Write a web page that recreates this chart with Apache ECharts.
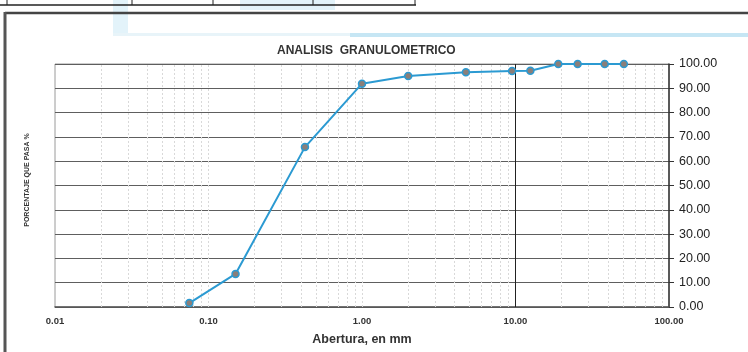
<!DOCTYPE html>
<html>
<head>
<meta charset="utf-8">
<script src="https://cdn.jsdelivr.net/npm/echarts@6/dist/echarts.min.js"></script>
<style>
html,body{margin:0;padding:0;background:#fff;}
#chart{width:748px;height:352px;}
</style>
</head>
<body>
<div id="chart"></div>
<script>
// Sieve openings (mm) and percentage passing
var sizes = [0.075, 0.15, 0.425, 1.0, 2.0, 4.75, 9.5, 12.5, 19.0, 25.4, 38.1, 50.8];
var passing = [1.6, 13.6, 65.8, 91.9, 95.1, 96.6, 97.1, 97.2, 100, 100, 100, 100];
// log grid lines
var minorLines = [0.02,0.03,0.04,0.05,0.06,0.07,0.08,0.09,0.1,
                  0.2,0.3,0.4,0.5,0.6,0.7,0.8,0.9,1,
                  2,3,4,5,6,7,8,9,
                  20,30,40,50,60,70,80,90];
var majorLines = [10];
var xTicks = [0.01, 0.1, 1, 10, 100];
var yTicks = [0,10,20,30,40,50,60,70,80,90,100];

var chart = echarts.init(document.getElementById('chart'), null, {renderer:'canvas'});
var pts = sizes.map(function(s,i){return [s, passing[i]];});
var ml = minorLines.map(function(v){return {xAxis:v, lineStyle:{color:'#d9d9d9', width:1, type:[2,2]}};})
  .concat(majorLines.map(function(v){return {xAxis:v, lineStyle:{color:'#222', width:1, type:'solid'}};}));

var option = {
  backgroundColor:'#ffffff',
  animation:false,
  title:{
    text:'ANALISIS  GRANULOMETRICO',
    left:272, top:40,
    textStyle:{fontFamily:'Liberation Sans, Arial', fontSize:12, fontWeight:'bold', color:'#333'}
  },
  grid:{left:55, right:79, top:64, bottom:45, show:true, borderColor:'#9a9a9a', borderWidth:1, backgroundColor:'transparent'},
  xAxis:{
    type:'log', logBase:10, min:0.01, max:100,
    name:'Abertura, en mm', nameLocation:'middle', nameGap:26,
    nameTextStyle:{fontFamily:'Liberation Sans, Arial', fontSize:12.5, fontWeight:'bold', color:'#333'},
    axisLine:{show:true, lineStyle:{color:'#555', width:1.5}},
    axisTick:{show:false},
    splitLine:{show:false},
    axisLabel:{
      margin:9, fontFamily:'Liberation Sans, Arial', fontSize:9.5, fontWeight:'bold', color:'#333',
      formatter:function(v){return Number(v).toFixed(2);}
    }
  },
  yAxis:{
    type:'value', position:'right', min:0, max:100, interval:10,
    axisLine:{show:true, lineStyle:{color:'#333', width:1.5}},
    axisTick:{show:true, inside:false, length:5, lineStyle:{color:'#333'}},
    splitLine:{show:true, lineStyle:{color:'#5e5e5e', width:1}},
    axisLabel:{
      margin:10, fontFamily:'Liberation Sans, Arial', fontSize:12.5, color:'#222',
      formatter:function(v){return Number(v).toFixed(2);}
    }
  },
  series:[
    {
      type:'line', data:[], silent:true,
      markLine:{silent:true, symbol:'none', label:{show:false}, data:ml, animation:false}
    },
    {
      type:'line', data:pts, smooth:false,
      symbol:'circle', symbolSize:7,
      lineStyle:{color:'#2b9ad2', width:2},
      itemStyle:{color:'#8a7f7a', borderColor:'#2b9ad2', borderWidth:1.5},
      z:5
    }
  ],
  graphic:[
    // scan watermark tints
    {type:'rect', shape:{x:113,y:0,width:15,height:36}, style:{fill:'#e3f3fa'}, z:-10},
    {type:'rect', shape:{x:240,y:0,width:95,height:10}, style:{fill:'#e3f3fa'}, z:-10},
    {type:'rect', shape:{x:113,y:33,width:237,height:3}, style:{fill:'#e8f4f9'}, z:-10},
    {type:'rect', shape:{x:350,y:33,width:398,height:4}, style:{fill:'#c6e6f4'}, z:-10},
    // upper table remains
    {type:'line', shape:{x1:0,y1:5,x2:416,y2:5}, style:{stroke:'#222', lineWidth:1.5}},
    {type:'line', shape:{x1:7,y1:0,x2:7,y2:5}, style:{stroke:'#222', lineWidth:1}},
    {type:'line', shape:{x1:132,y1:0,x2:132,y2:5}, style:{stroke:'#222', lineWidth:1}},
    {type:'line', shape:{x1:213,y1:0,x2:213,y2:5}, style:{stroke:'#222', lineWidth:1}},
    {type:'line', shape:{x1:313,y1:0,x2:313,y2:5}, style:{stroke:'#222', lineWidth:1}},
    {type:'line', shape:{x1:415,y1:0,x2:415,y2:5}, style:{stroke:'#222', lineWidth:1}},
    // frame
    {type:'line', shape:{x1:5,y1:13,x2:748,y2:13}, style:{stroke:'#444', lineWidth:2.5}},
    {type:'line', shape:{x1:5,y1:12,x2:5,y2:352}, style:{stroke:'#555', lineWidth:3}},
    // y axis title
    {type:'text', x:27, y:180, rotation:Math.PI/2,
     style:{text:'PORCENTAJE QUE PASA %', fontFamily:'Liberation Sans, Arial', fontSize:7, fontWeight:'bold', fill:'#333', textAlign:'center', textVerticalAlign:'middle'}}
  ]
};
chart.setOption(option);
</script>
</body>
</html>
